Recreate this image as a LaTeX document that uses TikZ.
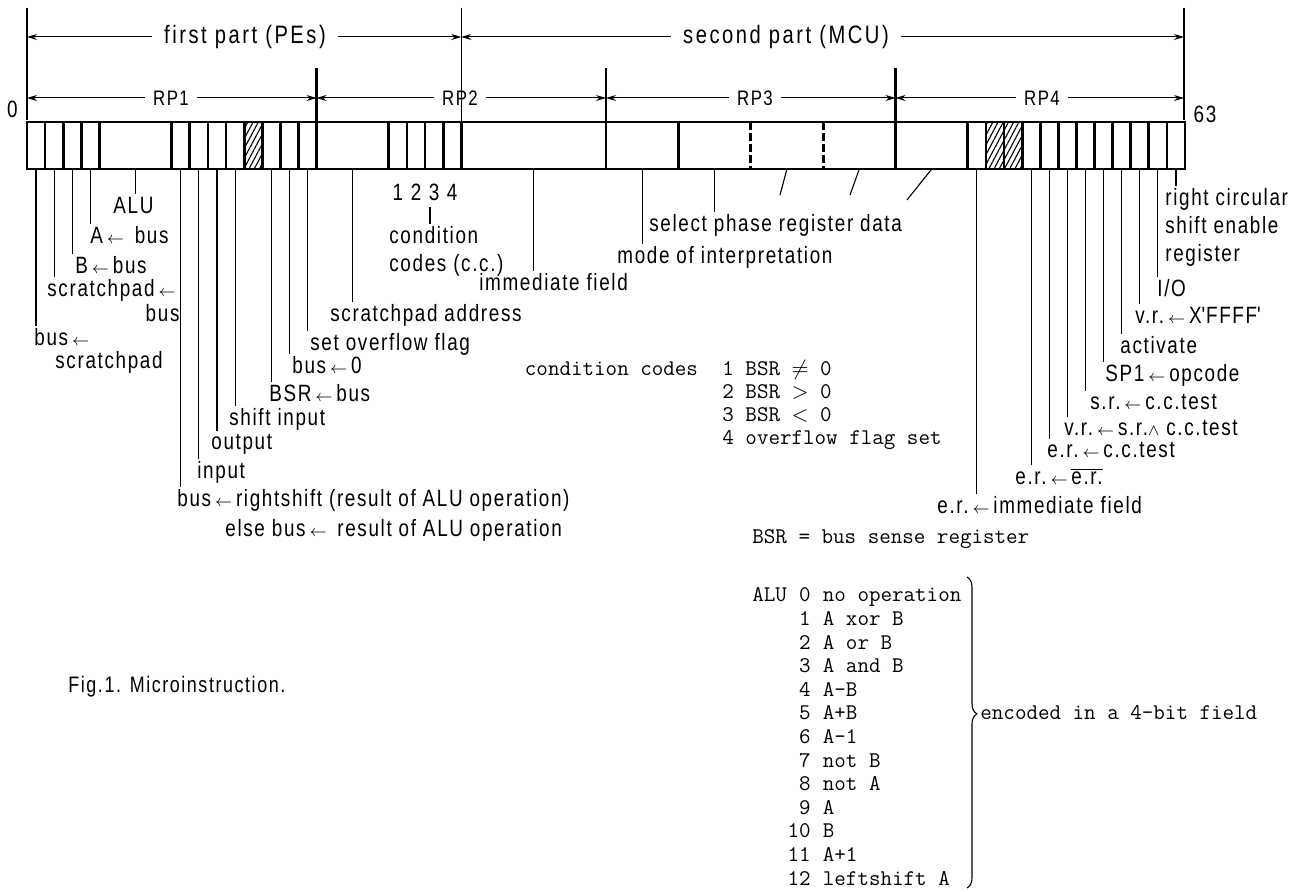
\documentclass[tikz,border=0pt]{standalone}
\usepackage{fontspec}
\setmainfont[FakeStretch=0.8,LetterSpace=7]{Liberation Sans}
\usetikzlibrary{arrows.meta,positioning,patterns.meta,decorations.pathreplacing,calc}
\newcommand{\lar}{\,$\scriptstyle\leftarrow$\,}
\begin{document}
\begin{tikzpicture}[x=0.5pt,y=-0.5pt,
lbl/.style={font=\fontsize{11.8}{13.2}\selectfont,inner sep=1pt,anchor=north west,align=left},
rp/.style={font=\fontsize{10.5}{12}\selectfont,inner sep=1pt,inner xsep=4pt},
part/.style={font=\fontsize{12.6}{14}\selectfont\addfontfeature{LetterSpace=10},inner sep=1pt,inner xsep=6pt},
mono/.style={font=\ttfamily\fontsize{11.2}{11.8}\selectfont,inner sep=0pt},
figcap/.style={font=\fontsize{11.2}{13}\selectfont,inner sep=0pt},
bar/.style={line width=1.4pt},
lead/.style={line width=0.55pt},
dim/.style={line width=0.5pt,-{Stealth[length=5pt,width=3pt]}}]
\useasboundingbox (0,0) rectangle (1314,892);
\foreach \b in {12,53,54}
  \fill[pattern={Lines[angle=62,distance=2.3pt,line width=0.55pt]}] ({27+18.094*\b},122) rectangle ({27+18.094*(\b+1)},169);
\draw[bar] (27,122) rectangle (1185,169);
\foreach \b in {1,2,3,4,8,9,10,11,12,13,14,15,16,20,21,22,23,24,32,36,48,52,53,54,55,56,57,58,59,60,61,62,63}
  \draw[bar] ({27+18.094*\b},122) -- ++(0,47);
\foreach \b in {40,44}
  \draw[bar,dash pattern=on 4pt off 1.5pt] ({27+18.094*\b},122) -- ++(0,47);
\foreach \b in {0,...,63}
  \coordinate (m\b) at ({27+18.094*(\b+0.5)},169);
\foreach \b in {6,18,28,34,38,42,46,50}
  \coordinate (f\b) at ({27+18.094*\b},169);
\draw[lead] (27,8) -- (27,68); \draw[bar] (27,68) -- (27,120);
\draw[lead] (1184,8) -- (1184,70); \draw[bar] (1184,70) -- (1184,120);
\draw[lead] ({27+18.094*24},8) -- ({27+18.094*24},122);
\foreach \b in {16,32,48}
  \draw[bar] ({27+18.094*\b},68) -- ({27+18.094*\b},122);
\coordinate (p0) at (27,37); \coordinate (p24) at ({27+18.094*24},37); \coordinate (p64) at (1184,37);
\node[part] (fp) at (245,37) {first part (PEs)};
\node[part] (sp) at (786,37) {second part (MCU)};
\draw[dim] (fp) -- (p0); \draw[dim] (fp) -- (p24);
\draw[dim] (sp) -- (p24); \draw[dim] (sp) -- (p64);
\coordinate (r0) at (27,98); \coordinate (r64) at (1184,98);
\foreach \b in {16,32,48} \coordinate (r\b) at ({27+18.094*\b},98);
\node[rp] (rp1) at (171,98) {RP1};
\node[rp] (rp2) at (460,98) {RP2};
\node[rp] (rp3) at (755,98) {RP3};
\node[rp] (rp4) at (1042,98) {RP4};
\draw[dim] (rp1) -- (r0); \draw[dim] (rp1) -- (r16);
\draw[dim] (rp2) -- (r16); \draw[dim] (rp2) -- (r32);
\draw[dim] (rp3) -- (r32); \draw[dim] (rp3) -- (r48);
\draw[dim] (rp4) -- (r48); \draw[dim] (rp4) -- (r64);
\node[lbl,anchor=center] (b0) at (12.5,109) {0};
\node[lbl,anchor=center] (b63) at (1205,114) {63};
\node[lbl] (l0) at (32,326.5) {bus\lar\\[-1.8pt]\hspace*{10.5pt}scratchpad};
\node[lbl,align=right] (l1) at (45,277.5) {scratchpad\lar\\[-0.7pt]bus};
\node[lbl] (l2) at (73,254.5) {B\lar bus};
\node[lbl] (l3) at (88,224.5) {A\lar\ bus};
\node[lbl,anchor=north] (lalu) at (133.5,194.5) {ALU};
\node[lbl] (l8) at (175,487.5) {bus\lar rightshift (result of ALU operation)\\[1.8pt]\hspace*{24pt}else bus\lar\ result of ALU operation};
\node[lbl] (l9) at (195,459.5) {input};
\node[lbl] (l10) at (209,431.5) {output};
\node[lbl] (l11) at (227,406.5) {shift input};
\node[lbl] (l13) at (267,382.5) {BSR\lar bus};
\node[lbl] (l14) at (290,354.5) {bus\lar 0};
\node[lbl] (l15) at (308,331.5) {set overflow flag};
\node[lbl] (lsa) at (328,302.5) {scratchpad address};
\foreach \b/\d in {20/1,21/2,22/3,23/4}
  \node[lbl,anchor=center] (d\d) at ({27+18.094*(\b+0.5)},192) {\d};
\node[lbl] (lcc) at (387,224.5) {condition\\[0.8pt]codes (c.c.)};
\coordinate (cct) at (430,207);
\node[lbl] (limm) at (477,271.5) {immediate field};
\node[lbl] (lmode) at (615,244.5) {mode of interpretation};
\node[lbl] (lsel) at (647,212.5) {select phase register data};
\coordinate (s42) at (780,195); \coordinate (s46) at (850,195); \coordinate (s50) at (907,200);
\node[lbl] (l52) at (935,494.5) {e.r.\lar immediate field};
\node[lbl] (l55) at (1013,465.5) {e.r.\lar$\overline{\mbox{e.r.}}$};
\node[lbl] (l56) at (1045,439.5) {e.r.\lar c.c.test};
\node[lbl] (l57) at (1062,417.5) {v.r.\lar s.r.$\scriptstyle\wedge$ c.c.test};
\node[lbl] (l58) at (1088,391.5) {s.r.\lar c.c.test};
\node[lbl] (l59) at (1103,362.5) {SP1\lar opcode};
\node[lbl] (l60) at (1118,334.5) {activate};
\node[lbl] (l61) at (1133,304.5) {v.r.\lar X\textquotesingle FFFF\textquotesingle};
\node[lbl] (l62) at (1155,277.5) {I/O};
\node[lbl] (l63) at (1163,186.5) {right circular\\[0.8pt]shift enable\\[0.8pt]register};
\foreach \b in {0,1,2,3,8,9,10,11,13,14,15,52,55,56,57,58,59,60,61,62,63}
  \draw[lead] (m\b) -- (m\b |- l\b.north);
\draw[lead] (f6) -- (f6 |- lalu.north);
\draw[lead] (f18) -- (f18 |- lsa.north);
\draw[lead] (f28) -- (f28 |- limm.north);
\draw[lead] (f34) -- (f34 |- lmode.north);
\draw[lead] (f38) -- (f38 |- lsel.north);
\draw[lead] (cct) -- (cct |- lcc.north);
\foreach \b in {42,46,50} \draw[lead] (f\b) -- (s\b);
\foreach \txt [count=\i from 0] in {1 BSR $\neq$ 0,2 BSR $>$ 0,3 BSR $<$ 0,4 overflow flag set}
  \node[mono,anchor=base west] (cc\i) at (722,{376+23*\i}) {\txt};
\node[mono,anchor=base east,left=23.6*0.5pt of cc0.base west,anchor=base east] (cch) {condition codes};
\node[mono,anchor=base west] (bsr) at (752,544) {BSR = bus sense register};
\node[mono,anchor=base west] (aluh) at (752,602) {ALU};
\foreach \nr/\txt [count=\i from 0] in {0/no operation,1/A xor B,2/A or B,3/A and B,4/A-B,5/A+B,6/A-1,7/not B,8/not A,9/A,10/B,11/A+1,12/leftshift A}{
  \node[mono,anchor=base east] (n\i) at (811,{602+23.6*\i}) {\nr};
  \node[mono,anchor=base west] (a\i) at (822.5,{602+23.6*\i}) {\txt};}
\coordinate (bt) at (967,577); \coordinate (bb) at (967,888);
\draw[lead,decorate,decoration={brace,amplitude=5pt,aspect=0.44}] (bt) -- (bb);
\node[mono,anchor=base west] (enc) at (980,720) {encoded in a 4-bit field};
\node[figcap,anchor=west] (fig) at (68,687) {Fig.1. Microinstruction.};
\end{tikzpicture}
\end{document}
